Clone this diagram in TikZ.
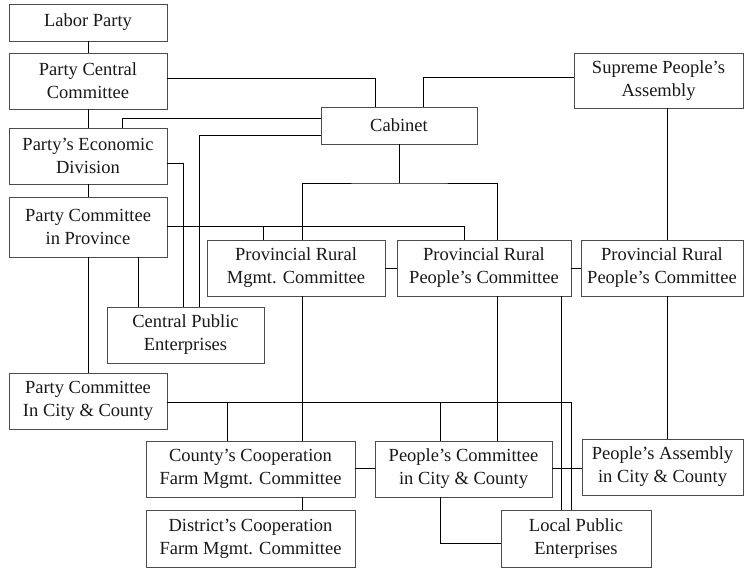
\documentclass[tikz,border=0pt]{standalone}
\usepackage{fontspec}
\setmainfont{Liberation Serif}
\begin{document}
\begin{tikzpicture}[x=1pt,y=-1pt,
  box/.style={draw=black!70, line width=0.9pt, fill=white, inner sep=0pt, align=center,
    font=\fontsize{18.5}{23}\selectfont, text=black!90},
  conn/.style={line width=1pt, black}]
\fill[white] (0,0) rectangle (744,570);
\useasboundingbox (0,0) rectangle (744,570);
% nodes
\node[box, minimum width=158, minimum height=37] (labor) at (88,22.5) {Labor Party};
\node[box, minimum width=158, minimum height=56] (pcc) at (88,81) {Party Central\\Committee};
\node[box, minimum width=158, minimum height=56] (ped) at (88,156) {Party's Economic\\Division};
\node[box, minimum width=158, minimum height=60] (pcp) at (88,227) {Party Committee\\in Province};
\node[box, minimum width=157, minimum height=56] (cpe) at (185.5,335) {Central Public\\Enterprises};
\node[box, minimum width=178, minimum height=56] (prmc) at (296,268) {Provincial Rural\\Mgmt. Committee};
\node[box, minimum width=174, minimum height=56] (prpc1) at (484,268) {Provincial Rural\\People's Committee};
\node[box, minimum width=162, minimum height=56] (prpc2) at (662,268) {Provincial Rural\\People's Committee};
\node[box, minimum width=169, minimum height=55] (spa) at (658.5,80.5) {Supreme People's\\Assembly};
\node[box, minimum width=156, minimum height=37] (cabinet) at (399,125.5) {Cabinet};
\node[box, minimum width=158, minimum height=56] (pccc) at (88,401) {Party Committee\\In City \& County};
\node[box, minimum width=209, minimum height=56] (ccfm) at (250.5,469) {County's Cooperation\\Farm Mgmt. Committee};
\node[box, minimum width=209, minimum height=57] (dcfm) at (250.5,538.5) {District's Cooperation\\Farm Mgmt. Committee};
\node[box, minimum width=177, minimum height=56] (pcicc) at (463.5,469) {People's Committee\\in City \& County};
\node[box, minimum width=161, minimum height=56] (paicc) at (662.5,467) {People's Assembly\\in City \& County};
\node[box, minimum width=150, minimum height=57] (lpe) at (576,538.5) {Local Public\\Enterprises};
% junction points
\coordinate (jcab) at (399,183);
\coordinate (jprov) at (263,226);
\coordinate (jcity1) at (227,402);
\coordinate (jcity2) at (440,402);
% connectors
\draw[conn] (labor.south) -- (pcc.north);
\draw[conn] (pcc.east |- 0,78) -| (cabinet.north -| 375,0);
\draw[conn] (pcc.south) -- (ped.north);
\draw[conn] (ped.north -| 122,0) |- (cabinet.west |- 0,118);
\draw[conn] (cabinet.west |- 0,135) -| (cpe.north -| 199,0);
\draw[conn] (ped.east |- 0,163) -| (cpe.north -| 183,0);
\draw[conn] (ped.south) -- (pcp.north);
\draw[conn] (pcp.east |- 0,226) -| (prpc1.north -| 464,0);
\draw[conn] (prmc.north -| jprov) -- (jprov);
\draw[conn] (cabinet.south) -- (jcab);
\draw[conn] (prmc.north -| 302,0) |- (jcab) -| (prpc1.north -| 497,0);
\draw[conn] (spa.west |- 0,77) -| (cabinet.north -| 423,0);
\draw[conn] (spa.south -| 667,0) -- (prpc2.north -| 667,0);
\draw[conn] (prmc.east) -- (prpc1.west);
\draw[conn] (prpc1.east) -- (prpc2.west);
\draw[conn] (pcp.south) -- (pccc.north);
\draw[conn] (pcp.south -| 138,0) -- (cpe.north -| 138,0);
\draw[conn] (prmc.south -| 302,0) -- (ccfm.north -| 302,0);
\draw[conn] (pccc.east |- 0,402) -| (lpe.north -| 571,0);
\draw[conn] (ccfm.north -| jcity1) -- (jcity1);
\draw[conn] (pcicc.north -| jcity2) -- (jcity2);
\draw[conn] (prpc1.south -| 497,0) -- (pcicc.north -| 497,0);
\draw[conn] (prpc1.south -| 561,0) -- (lpe.north -| 561,0);
\draw[conn] (prpc2.south -| 667,0) -- (paicc.north -| 667,0);
\draw[conn] (ccfm.east |- 0,468) -- (pcicc.west |- 0,468);
\draw[conn] (pcicc.east |- 0,468) -- (paicc.west |- 0,468);
\draw[conn] (ccfm.south -| 302,0) -- (dcfm.north -| 302,0);
\draw[conn] (pcicc.south -| 440,0) |- (lpe.west |- 0,543);
\end{tikzpicture}
\end{document}
